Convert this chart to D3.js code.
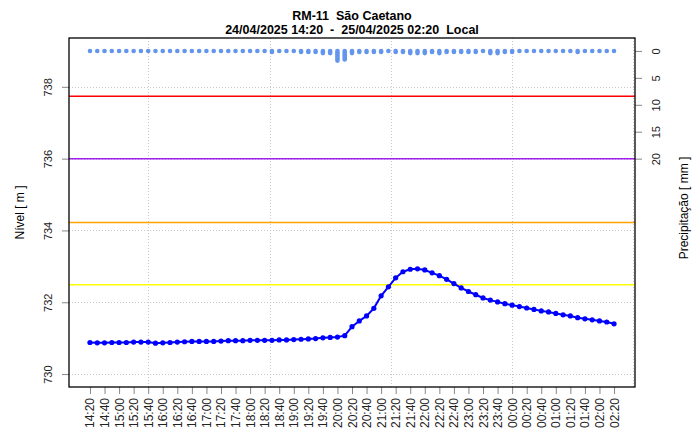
<!DOCTYPE html>
<html>
<head>
<meta charset="utf-8">
<script src="https://cdn.jsdelivr.net/npm/d3@7"></script>
<style>
  body { margin: 0; background: #fff; }
  svg { display: block; font-family: "Liberation Sans", Arial, sans-serif; }
</style>
</head>
<body>
<script>
// level readings every 10 minutes, 14:20 -> 02:20 local (UTC-3)
const startTime = "2025-04-24T17:20:00Z";
const level = [
  730.88, 730.87, 730.87, 730.88, 730.88, 730.88, 730.89, 730.89, 730.89, 730.86,
  730.87, 730.88, 730.89, 730.90, 730.91, 730.91, 730.91, 730.91, 730.92, 730.93,
  730.93, 730.93, 730.94, 730.94, 730.94, 730.94, 730.95, 730.95, 730.96, 730.97,
  730.98, 730.99, 731.01, 731.02, 731.03, 731.07, 731.32, 731.48, 731.62, 731.83,
  732.18, 732.43, 732.68, 732.85, 732.92, 732.93, 732.90, 732.82, 732.74, 732.64,
  732.52, 732.40, 732.30, 732.21, 732.12, 732.06, 732.01, 731.96, 731.92, 731.88,
  731.84, 731.80, 731.76, 731.73, 731.69, 731.65, 731.62, 731.57, 731.54, 731.51,
  731.48, 731.45, 731.40
];
// precipitation [mm] per 10 minutes
const precip = [
  0, 0, 0, 0, 0, 0, 0, 0, 0, 0,
  0, 0, 0, 0, 0, 0, 0, 0, 0, 0,
  0, 0, 0, 0, 0, 0.2, 0, 0, 0, 0.2,
  0.2, 0.2, 0.4, 0.4, 1.8, 1.6, 0.4, 0.2, 0.2, 0.2,
  0.2, 0, 0.2, 0.2, 0.4, 0.4, 0.4, 0.2, 0.4, 0.2,
  0.2, 0.2, 0.2, 0.2, 0, 0.4, 0.4, 0.2, 0.2, 0,
  0, 0, 0, 0, 0, 0, 0, 0.2, 0, 0,
  0, 0, 0
];
const tickLabels = [
  "14:20", "14:40", "15:00", "15:20", "15:40", "16:00", "16:20", "16:40", "17:00",
  "17:20", "17:40", "18:00", "18:20", "18:40", "19:00", "19:20", "19:40", "20:00",
  "20:20", "20:40", "21:00", "21:20", "21:40", "22:00", "22:20", "22:40", "23:00",
  "23:20", "23:40", "00:00", "00:20", "00:40", "01:00", "01:20", "01:40", "02:00", "02:20"
];
const levelTicks = [730, 732, 734, 736, 738];
const precipTicks = [0, 5, 10, 15, 20];
const thresholds = [
  {value: 737.74, color: "#ff0000"},
  {value: 736.0, color: "#a020f0"},
  {value: 734.22, color: "#ffa500"},
  {value: 732.49, color: "#ffff00"}
];
const title1 = "RM-11  São Caetano";
const title2 = "24/04/2025 14:20  -  25/04/2025 02:20  Local";

const W = 695, H = 439;
const plot = {left: 69, right: 635, top: 38, bottom: 387};

const t0 = new Date(startTime).getTime();
const times = level.map((d, i) => new Date(t0 + i * 600000));
const span = times[times.length - 1] - times[0];

const x = d3.scaleTime()
  .domain([new Date(t0 - 0.04 * span), new Date(+times[times.length - 1] + 0.04 * span)])
  .range([plot.left, plot.right]);
const y = d3.scaleLinear().domain([729.64, 739.36]).range([plot.bottom, plot.top]);
const yp = d3.scaleLinear().domain([-2.4, 62.4]).range([plot.top, plot.bottom]);

const svg = d3.select("body").append("svg")
  .attr("width", W)
  .attr("height", H);

// grid (R style: every 10000 s on the time axis)
const dom = x.domain().map(Number);
const gridTimes = d3.range(Math.ceil(dom[0] / 1e7) * 1e7, dom[1], 1e7);
svg.append("g").selectAll("line")
  .data(gridTimes)
  .join("line")
  .attr("x1", d => Math.round(x(d)) + 0.5).attr("x2", d => Math.round(x(d)) + 0.5)
  .attr("y1", plot.top).attr("y2", plot.bottom)
  .attr("stroke", "#c8c8c8").attr("stroke-dasharray", "1,2");
svg.append("g").selectAll("line")
  .data(levelTicks)
  .join("line")
  .attr("x1", plot.left).attr("x2", plot.right)
  .attr("y1", d => Math.round(y(d)) + 0.5).attr("y2", d => Math.round(y(d)) + 0.5)
  .attr("stroke", "#c8c8c8").attr("stroke-dasharray", "1,2");

// threshold lines
svg.append("g").selectAll("line")
  .data(thresholds)
  .join("line")
  .attr("x1", plot.left).attr("x2", plot.right)
  .attr("y1", d => y(d.value)).attr("y2", d => y(d.value))
  .attr("stroke", d => d.color).attr("stroke-width", 1.5);

// precipitation bars
svg.append("g").selectAll("line")
  .data(precip)
  .join("line")
  .attr("x1", (d, i) => x(times[i])).attr("x2", (d, i) => x(times[i]))
  .attr("y1", yp(0)).attr("y2", d => yp(d))
  .attr("stroke", "#6495ed").attr("stroke-width", 4.6)
  .attr("stroke-linecap", "round");

// level line + points
const line = d3.line()
  .x((d, i) => x(times[i]))
  .y(d => y(d));
svg.append("path")
  .datum(level)
  .attr("d", line)
  .attr("fill", "none")
  .attr("stroke", "#0000ff")
  .attr("stroke-width", 2);
svg.append("g").selectAll("circle")
  .data(level)
  .join("circle")
  .attr("cx", (d, i) => x(times[i]))
  .attr("cy", d => y(d))
  .attr("r", 2.6)
  .attr("fill", "#0000ff");

// axes
const xAxis = d3.axisBottom(x)
  .tickValues(tickLabels.map((d, i) => times[i * 2]))
  .tickFormat((d, i) => tickLabels[i])
  .tickSize(7).tickSizeOuter(0);
const gx = svg.append("g")
  .attr("transform", "translate(0," + plot.bottom + ")")
  .call(xAxis);
gx.select(".domain").remove();
gx.selectAll(".tick line").attr("stroke", "#888");
gx.selectAll(".tick text")
  .attr("y", null).attr("dy", null)
  .attr("text-anchor", "end")
  .attr("transform", "translate(4,11) rotate(-90)")
  .attr("font-size", 12)
  .attr("font-family", "Liberation Sans, Arial, sans-serif")
  .attr("fill", "#222");

const yAxis = d3.axisLeft(y).tickValues(levelTicks).tickSize(7).tickSizeOuter(0);
const gy = svg.append("g")
  .attr("transform", "translate(" + plot.left + ",0)")
  .call(yAxis);
gy.select(".domain").remove();
gy.selectAll(".tick line").attr("stroke", "#888");
gy.selectAll(".tick text")
  .attr("x", null).attr("dy", null)
  .attr("text-anchor", "middle")
  .attr("transform", "translate(-17,0) rotate(-90)")
  .attr("font-size", 11)
  .attr("font-family", "Liberation Sans, Arial, sans-serif")
  .attr("fill", "#222");

const ypAxis = d3.axisRight(yp).tickValues(precipTicks).tickSize(7).tickSizeOuter(0);
const gyp = svg.append("g")
  .attr("transform", "translate(" + plot.right + ",0)")
  .call(ypAxis);
gyp.select(".domain").remove();
gyp.selectAll(".tick line").attr("stroke", "#888");
gyp.selectAll(".tick text")
  .attr("x", null).attr("dy", null)
  .attr("text-anchor", "middle")
  .attr("transform", "translate(25,0) rotate(-90)")
  .attr("font-size", 11)
  .attr("font-family", "Liberation Sans, Arial, sans-serif")
  .attr("fill", "#222");

// box
svg.append("rect")
  .attr("x", plot.left).attr("y", plot.top)
  .attr("width", plot.right - plot.left).attr("height", plot.bottom - plot.top)
  .attr("fill", "none").attr("stroke", "#000").attr("stroke-width", 1.3);

// titles
svg.append("text")
  .attr("x", (plot.left + plot.right) / 2).attr("y", 19.5)
  .attr("text-anchor", "middle").attr("font-weight", "bold").attr("font-size", 12.5)
  .style("white-space", "pre")
  .text(title1);
svg.append("text")
  .attr("x", (plot.left + plot.right) / 2).attr("y", 34)
  .attr("text-anchor", "middle").attr("font-weight", "bold").attr("font-size", 12.5)
  .style("white-space", "pre")
  .text(title2);

svg.append("text")
  .attr("transform", "translate(24," + (plot.top + plot.bottom) / 2 + ") rotate(-90)")
  .attr("text-anchor", "middle").attr("font-size", 12)
  .text("Nível [ m ]");
svg.append("text")
  .attr("transform", "translate(688,208) rotate(-90)")
  .attr("text-anchor", "middle").attr("font-size", 12)
  .text("Precipitação [ mm ]");
</script>
</body>
</html>
